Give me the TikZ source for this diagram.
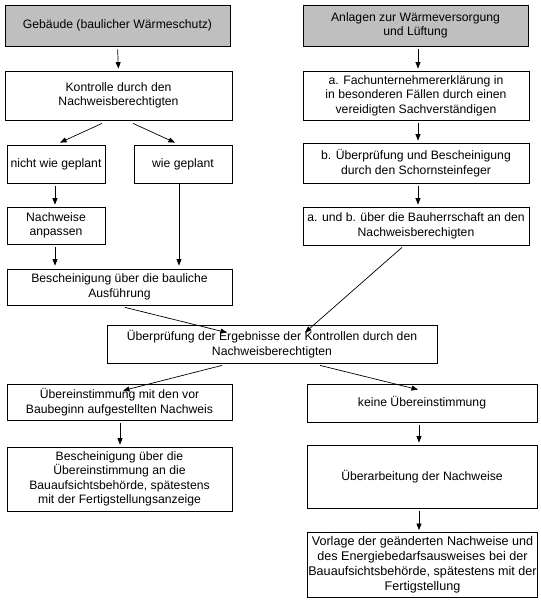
\documentclass[tikz,border=0pt]{standalone}
\usepackage{fontspec}
\setmainfont{Liberation Sans}
\usetikzlibrary{arrows.meta,calc}
\begin{document}
\begin{tikzpicture}[x=1pt,y=-1pt,
  box/.style={draw=black,line width=0.8pt,align=center,inner sep=1pt,
    font=\fontsize{12.2}{14.5}\selectfont},
  graybox/.style={box,fill=black!25},
  arr/.style={line width=0.7pt,-{Triangle[length=6.5pt,width=5pt]}},
  varr/.style={arr,shorten <=3pt,shorten >=2pt}]
\useasboundingbox (0,0) rectangle (540,604);
% left column
\node[graybox,minimum width=225pt,minimum height=41pt] (geb) at (117.5,25.5) {Gebäude (baulicher Wärmeschutz)};
\node[box,minimum width=227pt,minimum height=49pt] (kon) at (118.5,95.5) {Kontrolle durch den\\Nachweisberechtigten};
\node[box,minimum width=98pt,minimum height=38pt] (nwg) at (56,164) {nicht wie geplant};
\node[box,minimum width=98pt,minimum height=38pt] (wg) at (183,164) {wie geplant};
\node[box,minimum width=98pt,minimum height=37pt] (nan) at (56,225.5) {Nachweise\\anpassen};
\node[box,minimum width=225pt,minimum height=36pt] (bau) at (119.5,287) {Bescheinigung über die bauliche\\Ausführung};
% right column
\node[graybox,minimum width=225pt,minimum height=41pt] (anl) at (415.5,25.5) {Anlagen zur Wärmeversorgung\\und Lüftung};
\node[box,minimum width=226pt,minimum height=49pt] (fach) at (416,95.5) {a. Fachunternehmererklärung in\\in besonderen Fällen durch einen\\vereidigten Sachverständigen};
\node[box,minimum width=226pt,minimum height=40pt] (bue) at (416,163) {b. Überprüfung und Bescheinigung\\durch den Schornsteinfeger};
\node[box,minimum width=226pt,minimum height=38pt] (aub) at (416,226) {a. und b. über die Bauherrschaft an den\\Nachweisberechigten};
% middle
\node[box,minimum width=330pt,minimum height=38pt] (erg) at (272,344) {Überprüfung der Ergebnisse der Kontrollen durch den\\Nachweisberechtigten};
% bottom left
\node[box,minimum width=225pt,minimum height=36pt] (ueb) at (119.5,402) {Übereinstimmung mit den vor\\Baubeginn aufgestellten Nachweis};
\node[box,minimum width=225pt,minimum height=64pt] (bes) at (119.5,479) {Bescheinigung über die\\Übereinstimmung an die\\Bauaufsichtsbehörde, spätestens\\mit der Fertigstellungsanzeige};
% bottom right
\node[box,minimum width=230pt,minimum height=38pt] (kei) at (422,403) {keine Übereinstimmung};
\node[box,minimum width=230pt,minimum height=63pt] (ueba) at (422,476.5) {Überarbeitung der Nachweise};
\node[box,minimum width=229pt,minimum height=65pt,inner sep=0.5pt,font=\fontsize{12.6}{15}\selectfont] (vor) at (422.5,565) {Vorlage der geänderten Nachweise und\\des Energiebedarfsausweises bei der\\Bauaufsichtsbehörde, spätestens mit der\\Fertigstellung};
% connectors
\draw[varr] (geb.south) -- (kon.north);
\draw[arr] ($(kon.south)+(-16.5,3)$) -- ($(nwg.north)+(4,-2)$);
\draw[arr] ($(kon.south)+(14.5,3)$) -- ($(wg.north)+(-8,-2)$);
\draw[varr] ($(nwg.south)+(-1,0)$) -- ($(nan.north)+(-1,0)$);
\draw[arr] ($(wg.south)+(-4,0)$) -- ($(bau.north)+(59.5,-3)$);
\draw[arr] ($(nan.south)+(-1,3)$) -- ($(bau.north)+(-64.5,-3)$);
\draw[arr] ($(bau.south)+(5.5,2)$) -- ($(erg.north)+(-45,8)$);
\draw[arr] ($(aub.south)+(-14,2)$) -- ($(erg.north)+(33,8)$);
\draw[varr] ($(anl.south)+(2.5,0)$) -- ($(fach.north)+(2,0)$);
\draw[varr] ($(fach.south)+(2,0)$) -- ($(bue.north)+(2,0)$);
\draw[varr] ($(bue.south)+(2,0)$) -- ($(aub.north)+(2,0)$);
\draw[arr] ($(erg.south)+(-50,2)$) -- ($(ueb.north)+(3.5,7)$);
\draw[arr] ($(erg.south)+(48,2)$) -- ($(kei.north)+(-4,6)$);
\draw[varr] ($(ueb.south)+(0.5,0)$) -- ($(bes.north)+(0.5,0)$);
\draw[varr] ($(kei.south)+(-3,0)$) -- ($(ueba.north)+(-3,0)$);
\draw[varr] ($(ueba.south)+(-3,0)$) -- ($(vor.north)+(-3.5,0)$);
\end{tikzpicture}
\end{document}
